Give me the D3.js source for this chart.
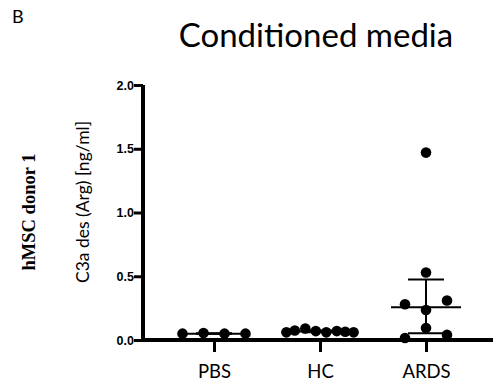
<!DOCTYPE html>
<html>
<head>
<meta charset="utf-8">
<style>
  body { margin: 0; background: #fff; }
  svg { display: block; }
</style>
<script src="https://d3js.org/d3.v7.min.js"></script>
</head>
<body>
<svg id="chart" width="494" height="387"></svg>
<script>
// data
var groups = ["PBS", "HC", "ARDS"];
var pbsValues = [0.05, 0.055, 0.05, 0.05];
var pbsSlots = [-1.5, -0.5, 0.5, 1.5];
var hcValues = [0.06, 0.075, 0.09, 0.07, 0.06, 0.07, 0.065, 0.06];
var hcSlots = [-1.6, -1.2, -0.7, -0.2, 0.3, 0.8, 1.2, 1.6];
var ardsValues = [1.47, 0.53, 0.28, 0.31, 0.235, 0.094, 0.016, 0.04];
var ardsSlots = [0, 0, -1, 1, 0, 0, -1, 1];
var yTicks = [0.0, 0.5, 1.0, 1.5, 2.0];

var series = [pbsValues, hcValues, ardsValues];
var slots = [pbsSlots, hcSlots, ardsSlots];

var svg = d3.select("#chart");

var x = d3.scalePoint().domain(groups).range([214, 426]);
var y = d3.scaleLinear().domain([0, 2]).range([340, 85]);
var slotW = 21;

// graphpad style quartiles (n+1)p
function q6(arr, p) {
  var s = arr.slice().sort(d3.ascending);
  var pos = (s.length + 1) * p - 1;
  var lo = Math.floor(pos), hi = Math.ceil(pos);
  if (lo < 0) return s[0];
  if (hi >= s.length) return s[s.length - 1];
  return s[lo] + (pos - lo) * (s[hi] - s[lo]);
}

svg.append("text")
  .attr("x", 12).attr("y", 23)
  .attr("font-family", "Lato, 'Open Sans', sans-serif")
  .attr("font-size", 18)
  .text("B");

svg.append("text")
  .attr("x", 316).attr("y", 47)
  .attr("text-anchor", "middle")
  .attr("font-family", "Lato, 'Open Sans', sans-serif")
  .attr("font-size", 33)
  .text("Conditioned media");

svg.append("text")
  .attr("transform", "translate(35,212) rotate(-90)")
  .attr("text-anchor", "middle")
  .attr("font-family", "'Liberation Serif', serif")
  .attr("font-weight", "bold")
  .attr("font-size", 18.5)
  .text("hMSC donor 1");

svg.append("text")
  .attr("transform", "translate(89,202) rotate(-90)")
  .attr("text-anchor", "middle")
  .attr("font-family", "Lato, 'Open Sans', sans-serif")
  .attr("font-size", 17.5)
  .text("C3a des (Arg) [ng/ml]");

// y axis
var yAxis = svg.append("g")
  .attr("transform", "translate(143,0)")
  .call(d3.axisLeft(y).tickValues(yTicks).tickFormat(d3.format(".1f")).tickSize(9).tickSizeOuter(0));
yAxis.select(".domain").attr("stroke-width", 4).attr("d", "M0," + (y(0) + 2) + "V" + y(2));
yAxis.selectAll(".tick line").attr("stroke-width", 3);
yAxis.selectAll(".tick text")
  .attr("font-family", "'Liberation Sans', Arial, sans-serif")
  .attr("font-weight", "bold")
  .attr("font-size", 12.5)
  .attr("x", -9);

// x axis
var xAxis = svg.append("g")
  .attr("transform", "translate(0," + y(0) + ")")
  .call(d3.axisBottom(x).tickSize(12).tickSizeOuter(0));
xAxis.select(".domain").attr("stroke-width", 4).attr("d", "M141,0H493");
xAxis.selectAll(".tick line").attr("stroke-width", 3);
xAxis.selectAll(".tick text")
  .attr("font-family", "Lato, 'Open Sans', sans-serif")
  .attr("font-size", 18.5)
  .attr("y", 25)
  .attr("fill", "#000");

// median and interquartile range
var stats = groups.map(function(g, i) {
  return { g: g, med: q6(series[i], 0.5), q1: q6(series[i], 0.25), q3: q6(series[i], 0.75) };
});

var bars = svg.append("g").attr("stroke", "#000").attr("stroke-width", 2);
stats.forEach(function(s) {
  var cx = x(s.g);
  bars.append("line").attr("x1", cx - 35).attr("x2", cx + 35).attr("y1", y(s.med)).attr("y2", y(s.med));
  bars.append("line").attr("x1", cx).attr("x2", cx).attr("y1", y(s.q1)).attr("y2", y(s.q3));
  bars.append("line").attr("x1", cx - 18).attr("x2", cx + 18).attr("y1", y(s.q1)).attr("y2", y(s.q1));
  bars.append("line").attr("x1", cx - 18).attr("x2", cx + 18).attr("y1", y(s.q3)).attr("y2", y(s.q3));
});

// dots
groups.forEach(function(g, i) {
  svg.append("g").selectAll("circle")
    .data(series[i])
    .enter()
    .append("circle")
    .attr("cx", function(d, j) { return x(g) + slots[i][j] * slotW; })
    .attr("cy", function(d) { return y(d); })
    .attr("r", 5.3)
    .attr("fill", "#000");
});
</script>
</body>
</html>
